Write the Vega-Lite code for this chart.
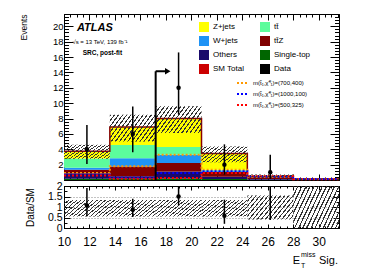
{
"$schema": "https://vega.github.io/schema/vega-lite/v6.json",
"background": "white",
"padding": {"left": 18, "top": 13, "right": 5, "bottom": 5},
"config": {
  "font": "Liberation Sans",
  "view": {"stroke": "black", "strokeWidth": 1},
  "axis": {"grid": false, "domain": true, "domainColor": "black", "domainWidth": 1, "tickColor": "black", "tickWidth": 1, "labelColor": "black", "titleColor": "black", "labelFont": "Liberation Sans", "titleFont": "Liberation Sans", "labelFlush": false, "labelOverlap": false, "zindex": 1},
  "legend": {"labelFont": "Liberation Sans", "labelColor": "black"}
},
"datasets": {
  "stack": [
    {"lo":10,"hi":13.6,"process":"Single-top","stackOrder":1,"events":0.15},
    {"lo":10,"hi":13.6,"process":"Others","stackOrder":2,"events":0.72},
    {"lo":10,"hi":13.6,"process":"tt\u0304Z","stackOrder":3,"events":0.46},
    {"lo":10,"hi":13.6,"process":"W+jets","stackOrder":4,"events":0.27},
    {"lo":10,"hi":13.6,"process":"tt\u0304","stackOrder":5,"events":1.2},
    {"lo":10,"hi":13.6,"process":"Z+jets","stackOrder":6,"events":0.94},
    {"lo":13.6,"hi":17.2,"process":"Single-top","stackOrder":1,"events":0.15},
    {"lo":13.6,"hi":17.2,"process":"Others","stackOrder":2,"events":0.35},
    {"lo":13.6,"hi":17.2,"process":"tt\u0304Z","stackOrder":3,"events":1.25},
    {"lo":13.6,"hi":17.2,"process":"W+jets","stackOrder":4,"events":1.08},
    {"lo":13.6,"hi":17.2,"process":"tt\u0304","stackOrder":5,"events":1.72},
    {"lo":13.6,"hi":17.2,"process":"Z+jets","stackOrder":6,"events":2.35},
    {"lo":17.2,"hi":20.8,"process":"Single-top","stackOrder":1,"events":0.2},
    {"lo":17.2,"hi":20.8,"process":"Others","stackOrder":2,"events":0.9},
    {"lo":17.2,"hi":20.8,"process":"tt\u0304Z","stackOrder":3,"events":1.1},
    {"lo":17.2,"hi":20.8,"process":"W+jets","stackOrder":4,"events":1.1},
    {"lo":17.2,"hi":20.8,"process":"tt\u0304","stackOrder":5,"events":1.0},
    {"lo":17.2,"hi":20.8,"process":"Z+jets","stackOrder":6,"events":3.7},
    {"lo":20.8,"hi":24.4,"process":"Single-top","stackOrder":1,"events":0.12},
    {"lo":20.8,"hi":24.4,"process":"Others","stackOrder":2,"events":0.3},
    {"lo":20.8,"hi":24.4,"process":"tt\u0304Z","stackOrder":3,"events":0.65},
    {"lo":20.8,"hi":24.4,"process":"W+jets","stackOrder":4,"events":0.15},
    {"lo":20.8,"hi":24.4,"process":"tt\u0304","stackOrder":5,"events":0.13},
    {"lo":20.8,"hi":24.4,"process":"Z+jets","stackOrder":6,"events":2.09},
    {"lo":24.4,"hi":28,"process":"Single-top","stackOrder":1,"events":0.02},
    {"lo":24.4,"hi":28,"process":"Others","stackOrder":2,"events":0.1},
    {"lo":24.4,"hi":28,"process":"tt\u0304Z","stackOrder":3,"events":0.25},
    {"lo":24.4,"hi":28,"process":"W+jets","stackOrder":4,"events":0.03},
    {"lo":24.4,"hi":28,"process":"tt\u0304","stackOrder":5,"events":0.03},
    {"lo":24.4,"hi":28,"process":"Z+jets","stackOrder":6,"events":0.02},
    {"lo":28,"hi":31.6,"process":"Single-top","stackOrder":1,"events":0.01},
    {"lo":28,"hi":31.6,"process":"Others","stackOrder":2,"events":0.03},
    {"lo":28,"hi":31.6,"process":"tt\u0304Z","stackOrder":3,"events":0.04},
    {"lo":28,"hi":31.6,"process":"W+jets","stackOrder":4,"events":0.01},
    {"lo":28,"hi":31.6,"process":"tt\u0304","stackOrder":5,"events":0.005},
    {"lo":28,"hi":31.6,"process":"Z+jets","stackOrder":6,"events":0.005}
  ],
  "bins": [
    {"lo":10,"hi":13.6,"bandLo":2.75,"bandHi":4.6,"rbandLo":0.55,"rbandHi":1.33},
    {"lo":13.6,"hi":17.2,"bandLo":5.0,"bandHi":8.5,"rbandLo":0.55,"rbandHi":1.33},
    {"lo":17.2,"hi":20.8,"bandLo":6.1,"bandHi":9.6,"rbandLo":0.55,"rbandHi":1.33},
    {"lo":20.8,"hi":24.4,"bandLo":2.3,"bandHi":4.35,"rbandLo":0.55,"rbandHi":1.33},
    {"lo":24.4,"hi":28,"bandLo":0.28,"bandHi":0.72,"rbandLo":0.4,"rbandHi":1.55},
    {"lo":28,"hi":31.6,"bandLo":0,"bandHi":0.2,"rbandLo":0,"rbandHi":2}
  ],
  "data": [
    {"center":11.8,"events":4,"errLo":2.09,"errHi":7.16,"ratio":1.07,"ratioLo":0.56,"ratioHi":1.91},
    {"center":15.4,"events":6,"errLo":3.62,"errHi":9.58,"ratio":0.87,"ratioLo":0.52,"ratioHi":1.39},
    {"center":19,"events":12,"errLo":8.56,"errHi":16.6,"ratio":1.5,"ratioLo":1.07,"ratioHi":2.08},
    {"center":22.6,"events":2,"errLo":0.7,"errHi":4.64,"ratio":0.58,"ratioLo":0.2,"ratioHi":1.35},
    {"center":26.2,"events":1,"errLo":0.17,"errHi":3.3,"ratio":2.22,"ratioLo":0.38,"ratioHi":7.3}
  ],
  "steps": [
    {"edge":10,"series":"SM Total","events":3.74},
    {"edge":13.6,"series":"SM Total","events":6.9},
    {"edge":17.2,"series":"SM Total","events":8.0},
    {"edge":20.8,"series":"SM Total","events":3.44},
    {"edge":24.4,"series":"SM Total","events":0.45},
    {"edge":28,"series":"SM Total","events":0.1},
    {"edge":31.6,"series":"SM Total","events":0.1},
    {"edge":10,"series":"m(t\u0303\u2081,\u03c7\u0303\u2070\u2081)=(700,400)","events":0.91},
    {"edge":13.6,"series":"m(t\u0303\u2081,\u03c7\u0303\u2070\u2081)=(700,400)","events":1.78},
    {"edge":17.2,"series":"m(t\u0303\u2081,\u03c7\u0303\u2070\u2081)=(700,400)","events":3.3},
    {"edge":20.8,"series":"m(t\u0303\u2081,\u03c7\u0303\u2070\u2081)=(700,400)","events":1.35},
    {"edge":24.4,"series":"m(t\u0303\u2081,\u03c7\u0303\u2070\u2081)=(700,400)","events":0.42},
    {"edge":28,"series":"m(t\u0303\u2081,\u03c7\u0303\u2070\u2081)=(700,400)","events":0.12},
    {"edge":31.6,"series":"m(t\u0303\u2081,\u03c7\u0303\u2070\u2081)=(700,400)","events":0.12},
    {"edge":10,"series":"m(t\u0303\u2081,\u03c7\u0303\u2070\u2081)=(1000,100)","events":0.7},
    {"edge":13.6,"series":"m(t\u0303\u2081,\u03c7\u0303\u2070\u2081)=(1000,100)","events":0.3},
    {"edge":17.2,"series":"m(t\u0303\u2081,\u03c7\u0303\u2070\u2081)=(1000,100)","events":0.91},
    {"edge":20.8,"series":"m(t\u0303\u2081,\u03c7\u0303\u2070\u2081)=(1000,100)","events":1.13},
    {"edge":24.4,"series":"m(t\u0303\u2081,\u03c7\u0303\u2070\u2081)=(1000,100)","events":0.45},
    {"edge":28,"series":"m(t\u0303\u2081,\u03c7\u0303\u2070\u2081)=(1000,100)","events":0.12},
    {"edge":31.6,"series":"m(t\u0303\u2081,\u03c7\u0303\u2070\u2081)=(1000,100)","events":0.12},
    {"edge":10,"series":"m(t\u0303\u2081,\u03c7\u0303\u2070\u2081)=(500,325)","events":0.57},
    {"edge":13.6,"series":"m(t\u0303\u2081,\u03c7\u0303\u2070\u2081)=(500,325)","events":0.15},
    {"edge":17.2,"series":"m(t\u0303\u2081,\u03c7\u0303\u2070\u2081)=(500,325)","events":0.26},
    {"edge":20.8,"series":"m(t\u0303\u2081,\u03c7\u0303\u2070\u2081)=(500,325)","events":0.91},
    {"edge":24.4,"series":"m(t\u0303\u2081,\u03c7\u0303\u2070\u2081)=(500,325)","events":0.5},
    {"edge":28,"series":"m(t\u0303\u2081,\u03c7\u0303\u2070\u2081)=(500,325)","events":0.1},
    {"edge":31.6,"series":"m(t\u0303\u2081,\u03c7\u0303\u2070\u2081)=(500,325)","events":0.1}
  ],
  "cut": [{"cut":17.2,"top":14.15,"tip":18.15}]
},
"bounds": "flush",
"spacing": 6,
"resolve": {"scale": {"x": "independent", "y": "independent", "fill": "independent", "stroke": "independent"}, "legend": {"fill": "independent", "stroke": "independent"}},
"vconcat": [
{
  "width": 275, "height": 166,
  "resolve": {"axis": {"x": "independent", "y": "independent"}},
  "layer": [
    {
      "data": {"name": "stack"},
      "transform": [{"stack": "events", "groupby": ["lo"], "sort": [{"field": "stackOrder", "order": "ascending"}], "as": ["y0", "y1"]}],
      "mark": {"type": "rect", "strokeWidth": 0},
      "encoding": {
        "x": {"field": "lo", "type": "quantitative", "scale": {"domain": [10, 31.6], "nice": false, "zero": false},
          "axis": {"orient": "bottom", "values": [10,10.5,11,11.5,12,12.5,13,13.5,14,14.5,15,15.5,16,16.5,17,17.5,18,18.5,19,19.5,20,20.5,21,21.5,22,22.5,23,23.5,24,24.5,25,25.5,26,26.5,27,27.5,28,28.5,29,29.5,30,30.5,31,31.5], "labels": false, "title": null,
            "tickSize": {"condition": {"test": "datum.value % 2 === 0", "value": -6}, "value": -3}}},
        "x2": {"field": "hi"},
        "y": {"field": "y0", "type": "quantitative", "scale": {"domain": [0, 21.6], "nice": false, "zero": false},
          "axis": {"orient": "left", "values": [0,0.4,0.8,1.2,1.6,2,2.4,2.8,3.2,3.6,4,4.4,4.8,5.2,5.6,6,6.4,6.8,7.2,7.6,8,8.4,8.8,9.2,9.6,10,10.4,10.8,11.2,11.6,12,12.4,12.8,13.2,13.6,14,14.4,14.8,15.2,15.6,16,16.4,16.8,17.2,17.6,18,18.4,18.8,19.2,19.6,20,20.4,20.8,21.2],
            "labelExpr": "datum.value % 2 === 0 && datum.value > 0 ? '' + datum.value : ''",
            "labelFontSize": {"condition": {"test": "datum.value % 2 === 0 && datum.value > 0", "value": 9.5}, "value": 0}, "labelPadding": 10,
            "tickSize": {"condition": {"test": "datum.value % 2 === 0", "value": -9}, "value": -4.5},
            "title": "Events", "titleFontSize": 8.5, "titleFontWeight": "normal", "titleAlign": "right", "titleAnchor": "end", "titleBaseline": "middle", "titleAngle": -90, "titleX": -41, "titleY": 0}},
        "y2": {"field": "y1"},
        "fill": {"field": "process", "type": "nominal",
          "scale": {"domain": ["Z+jets","tt\u0304","W+jets","tt\u0304Z","Others","Single-top","SM Total","Data"],
                    "range": ["#ffff00","#5cfc9c","#1f93f5","#800000","#1a0a6b","#006600","#cc0000","#000000"]},
          "legend": {"orient": "none", "legendX": 135, "legendY": 8, "columns": 2, "direction": "horizontal", "title": null,
            "symbolType": "square", "symbolSize": 100, "symbolStrokeWidth": 0,
            "labelFontSize": 8, "labelOffset": 4, "rowPadding": 4, "columnPadding": 15, "padding": 0, "labelLimit": 200,
            "encode": {"symbols": {"update": {
              "shape": {"condition": [{"test": "datum.index === 6", "value": "M-1,-0.2L-0.2,-1M-1,0.6L0.6,-1M-0.6,1L1,-0.6M0.2,1L1,0.2M-1,-0.22H1V0.22H-1Z"}, {"test": "datum.index === 7", "value": "M0,-1V1M-0.4,0A0.4,0.4,0,1,1,0.4,0A0.4,0.4,0,1,1,-0.4,0Z"}], "value": "square"},
              "fill": {"value": {"expr": "['#ffff00','#5cfc9c','#1f93f5','#800000','#1a0a6b','#006600','#cc0000','#000000'][datum.index]"}},
              "stroke": {"condition": {"test": "datum.index === 6", "value": "#333333"}, "value": "#000000"},
              "strokeWidth": {"condition": [{"test": "datum.index === 6", "value": 0.8}, {"test": "datum.index === 7", "value": 1.2}], "value": 0}
            }}}}}
      }
    },
    {
      "data": {"name": "steps"},
      "transform": [{"filter": "datum.series === 'SM Total'"}],
      "mark": {"type": "line", "interpolate": "step-after", "color": "#8b0000", "strokeWidth": 1.5},
      "encoding": {
        "x": {"field": "edge", "type": "quantitative", "scale": {"domain": [10, 31.6], "nice": false, "zero": false}, "axis": null},
        "y": {"field": "events", "type": "quantitative", "scale": {"domain": [0, 21.6], "nice": false, "zero": false}, "axis": null}
      }
    },
    {
      "data": {"name": "steps"},
      "transform": [{"filter": "datum.series !== 'SM Total'"}],
      "mark": {"type": "line", "interpolate": "step-after", "strokeWidth": 2, "strokeDash": [2, 2]},
      "encoding": {
        "x": {"field": "edge", "type": "quantitative", "scale": {"domain": [10, 31.6], "nice": false, "zero": false}, "axis": null},
        "y": {"field": "events", "type": "quantitative", "scale": {"domain": [0, 21.6], "nice": false, "zero": false}, "axis": null},
        "stroke": {"field": "series", "type": "nominal",
          "scale": {"domain": ["m(t\u0303\u2081,\u03c7\u0303\u2070\u2081)=(700,400)","m(t\u0303\u2081,\u03c7\u0303\u2070\u2081)=(1000,100)","m(t\u0303\u2081,\u03c7\u0303\u2070\u2081)=(500,325)"], "range": ["#ff9900","#0000ff","#ff0000"]},
          "legend": {"orient": "none", "legendX": 172, "legendY": 62, "title": null, "symbolType": "stroke", "symbolSize": 144, "symbolStrokeWidth": 2, "symbolDash": [2, 2], "labelFontSize": 6, "labelOffset": 3, "rowPadding": 0, "padding": 0, "labelLimit": 200}}
      }
    },
    {
      "data": {"name": "bins"},
      "mark": {"type": "rect", "strokeWidth": 0, "fill": {"gradient":"linear","x1":0,"y1":0,"x2":1.207,"y2":0.519,"stops":[
        {"offset":0,"color":"#333333"},{"offset":0.02,"color":"#333333"},{"offset":0.02,"color":"rgba(0,0,0,0)"},{"offset":0.0625,"color":"rgba(0,0,0,0)"},
        {"offset":0.0625,"color":"#333333"},{"offset":0.0825,"color":"#333333"},{"offset":0.0825,"color":"rgba(0,0,0,0)"},{"offset":0.125,"color":"rgba(0,0,0,0)"},
        {"offset":0.125,"color":"#333333"},{"offset":0.145,"color":"#333333"},{"offset":0.145,"color":"rgba(0,0,0,0)"},{"offset":0.1875,"color":"rgba(0,0,0,0)"},
        {"offset":0.1875,"color":"#333333"},{"offset":0.2075,"color":"#333333"},{"offset":0.2075,"color":"rgba(0,0,0,0)"},{"offset":0.25,"color":"rgba(0,0,0,0)"},
        {"offset":0.25,"color":"#333333"},{"offset":0.27,"color":"#333333"},{"offset":0.27,"color":"rgba(0,0,0,0)"},{"offset":0.3125,"color":"rgba(0,0,0,0)"},
        {"offset":0.3125,"color":"#333333"},{"offset":0.3325,"color":"#333333"},{"offset":0.3325,"color":"rgba(0,0,0,0)"},{"offset":0.375,"color":"rgba(0,0,0,0)"},
        {"offset":0.375,"color":"#333333"},{"offset":0.395,"color":"#333333"},{"offset":0.395,"color":"rgba(0,0,0,0)"},{"offset":0.4375,"color":"rgba(0,0,0,0)"},
        {"offset":0.4375,"color":"#333333"},{"offset":0.4575,"color":"#333333"},{"offset":0.4575,"color":"rgba(0,0,0,0)"},{"offset":0.5,"color":"rgba(0,0,0,0)"},
        {"offset":0.5,"color":"#333333"},{"offset":0.52,"color":"#333333"},{"offset":0.52,"color":"rgba(0,0,0,0)"},{"offset":0.5625,"color":"rgba(0,0,0,0)"},
        {"offset":0.5625,"color":"#333333"},{"offset":0.5825,"color":"#333333"},{"offset":0.5825,"color":"rgba(0,0,0,0)"},{"offset":0.625,"color":"rgba(0,0,0,0)"},
        {"offset":0.625,"color":"#333333"},{"offset":0.645,"color":"#333333"},{"offset":0.645,"color":"rgba(0,0,0,0)"},{"offset":0.6875,"color":"rgba(0,0,0,0)"},
        {"offset":0.6875,"color":"#333333"},{"offset":0.7075,"color":"#333333"},{"offset":0.7075,"color":"rgba(0,0,0,0)"},{"offset":0.75,"color":"rgba(0,0,0,0)"},
        {"offset":0.75,"color":"#333333"},{"offset":0.77,"color":"#333333"},{"offset":0.77,"color":"rgba(0,0,0,0)"},{"offset":0.8125,"color":"rgba(0,0,0,0)"},
        {"offset":0.8125,"color":"#333333"},{"offset":0.8325,"color":"#333333"},{"offset":0.8325,"color":"rgba(0,0,0,0)"},{"offset":0.875,"color":"rgba(0,0,0,0)"},
        {"offset":0.875,"color":"#333333"},{"offset":0.895,"color":"#333333"},{"offset":0.895,"color":"rgba(0,0,0,0)"},{"offset":0.9375,"color":"rgba(0,0,0,0)"},
        {"offset":0.9375,"color":"#333333"},{"offset":0.9575,"color":"#333333"},{"offset":0.9575,"color":"rgba(0,0,0,0)"},{"offset":1,"color":"rgba(0,0,0,0)"}]}},
      "encoding": {
        "x": {"field": "lo", "type": "quantitative", "scale": {"domain": [10, 31.6], "nice": false, "zero": false},
          "axis": {"orient": "top", "values": [10,10.5,11,11.5,12,12.5,13,13.5,14,14.5,15,15.5,16,16.5,17,17.5,18,18.5,19,19.5,20,20.5,21,21.5,22,22.5,23,23.5,24,24.5,25,25.5,26,26.5,27,27.5,28,28.5,29,29.5,30,30.5,31,31.5], "labels": false, "title": null,
            "tickSize": {"condition": {"test": "datum.value % 2 === 0", "value": -6}, "value": -3}}},
        "x2": {"field": "hi"},
        "y": {"field": "bandLo", "type": "quantitative", "scale": {"domain": [0, 21.6], "nice": false, "zero": false},
          "axis": {"orient": "right", "values": [0,0.4,0.8,1.2,1.6,2,2.4,2.8,3.2,3.6,4,4.4,4.8,5.2,5.6,6,6.4,6.8,7.2,7.6,8,8.4,8.8,9.2,9.6,10,10.4,10.8,11.2,11.6,12,12.4,12.8,13.2,13.6,14,14.4,14.8,15.2,15.6,16,16.4,16.8,17.2,17.6,18,18.4,18.8,19.2,19.6,20,20.4,20.8,21.2], "labels": false, "title": null,
            "tickSize": {"condition": {"test": "datum.value % 2 === 0", "value": -9}, "value": -4.5}}},
        "y2": {"field": "bandHi"}
      }
    },
    {
      "data": {"name": "data"},
      "mark": {"type": "rule", "color": "black", "strokeWidth": 1.5},
      "encoding": {
        "x": {"field": "center", "type": "quantitative", "scale": {"domain": [10, 31.6], "nice": false, "zero": false}, "axis": null},
        "y": {"field": "errLo", "type": "quantitative", "scale": {"domain": [0, 21.6], "nice": false, "zero": false}, "axis": null},
        "y2": {"field": "errHi"}
      }
    },
    {
      "data": {"name": "data"},
      "mark": {"type": "point", "filled": true, "color": "black", "opacity": 1, "size": 20},
      "encoding": {
        "x": {"field": "center", "type": "quantitative", "scale": {"domain": [10, 31.6], "nice": false, "zero": false}, "axis": null},
        "y": {"field": "events", "type": "quantitative", "scale": {"domain": [0, 21.6], "nice": false, "zero": false}, "axis": null}
      }
    },
    {
      "data": {"name": "cut"},
      "mark": {"type": "rule", "color": "black", "strokeWidth": 2},
      "encoding": {
        "x": {"field": "cut", "type": "quantitative", "scale": {"domain": [10, 31.6], "nice": false, "zero": false}, "axis": null},
        "y": {"field": "top", "type": "quantitative", "scale": {"domain": [0, 21.6], "nice": false, "zero": false}, "axis": null},
        "y2": {"datum": 0}
      }
    },
    {
      "data": {"name": "cut"},
      "mark": {"type": "rule", "color": "black", "strokeWidth": 2},
      "encoding": {
        "x": {"field": "cut", "type": "quantitative", "scale": {"domain": [10, 31.6], "nice": false, "zero": false}, "axis": null},
        "x2": {"field": "tip"},
        "y": {"field": "top", "type": "quantitative", "scale": {"domain": [0, 21.6], "nice": false, "zero": false}, "axis": null}
      }
    },
    {
      "data": {"name": "cut"},
      "mark": {"type": "point", "shape": "triangle-right", "filled": true, "color": "black", "opacity": 1, "size": 40},
      "encoding": {
        "x": {"field": "tip", "type": "quantitative", "scale": {"domain": [10, 31.6], "nice": false, "zero": false}, "axis": null},
        "y": {"field": "top", "type": "quantitative", "scale": {"domain": [0, 21.6], "nice": false, "zero": false}, "axis": null}
      }
    },
    {
      "data": {"values": [{}]},
      "mark": {"type": "text", "text": "ATLAS", "align": "left", "baseline": "alphabetic", "fontSize": 11, "fontWeight": "bold", "fontStyle": "italic", "color": "black"},
      "encoding": {
        "x": {"datum": 11.02, "type": "quantitative", "scale": {"domain": [10, 31.6], "nice": false, "zero": false}, "axis": null},
        "y": {"datum": 19.45, "type": "quantitative", "scale": {"domain": [0, 21.6], "nice": false, "zero": false}, "axis": null}
      }
    },
    {
      "data": {"values": [{}]},
      "mark": {"type": "text", "text": "\u221as = 13 TeV, 139 fb\u207b\u00b9", "align": "left", "baseline": "alphabetic", "fontSize": 6, "color": "black"},
      "encoding": {
        "x": {"datum": 10.66, "type": "quantitative", "scale": {"domain": [10, 31.6], "nice": false, "zero": false}, "axis": null},
        "y": {"datum": 17.76, "type": "quantitative", "scale": {"domain": [0, 21.6], "nice": false, "zero": false}, "axis": null}
      }
    },
    {
      "data": {"values": [{}]},
      "mark": {"type": "text", "text": "SRC, post-fit", "align": "left", "baseline": "alphabetic", "fontSize": 6.5, "fontWeight": "bold", "color": "black"},
      "encoding": {
        "x": {"datum": 11.47, "type": "quantitative", "scale": {"domain": [10, 31.6], "nice": false, "zero": false}, "axis": null},
        "y": {"datum": 16.24, "type": "quantitative", "scale": {"domain": [0, 21.6], "nice": false, "zero": false}, "axis": null}
      }
    }
  ]
},
{
  "width": 275, "height": 42,
  "resolve": {"axis": {"x": "independent", "y": "independent"}},
  "layer": [
    {
      "data": {"name": "bins"},
      "mark": {"type": "rect", "strokeWidth": 0, "fill": {"gradient":"linear","x1":0,"y1":0,"x2":1.207,"y2":0.519,"stops":[
        {"offset":0,"color":"#333333"},{"offset":0.02,"color":"#333333"},{"offset":0.02,"color":"rgba(0,0,0,0)"},{"offset":0.0625,"color":"rgba(0,0,0,0)"},
        {"offset":0.0625,"color":"#333333"},{"offset":0.0825,"color":"#333333"},{"offset":0.0825,"color":"rgba(0,0,0,0)"},{"offset":0.125,"color":"rgba(0,0,0,0)"},
        {"offset":0.125,"color":"#333333"},{"offset":0.145,"color":"#333333"},{"offset":0.145,"color":"rgba(0,0,0,0)"},{"offset":0.1875,"color":"rgba(0,0,0,0)"},
        {"offset":0.1875,"color":"#333333"},{"offset":0.2075,"color":"#333333"},{"offset":0.2075,"color":"rgba(0,0,0,0)"},{"offset":0.25,"color":"rgba(0,0,0,0)"},
        {"offset":0.25,"color":"#333333"},{"offset":0.27,"color":"#333333"},{"offset":0.27,"color":"rgba(0,0,0,0)"},{"offset":0.3125,"color":"rgba(0,0,0,0)"},
        {"offset":0.3125,"color":"#333333"},{"offset":0.3325,"color":"#333333"},{"offset":0.3325,"color":"rgba(0,0,0,0)"},{"offset":0.375,"color":"rgba(0,0,0,0)"},
        {"offset":0.375,"color":"#333333"},{"offset":0.395,"color":"#333333"},{"offset":0.395,"color":"rgba(0,0,0,0)"},{"offset":0.4375,"color":"rgba(0,0,0,0)"},
        {"offset":0.4375,"color":"#333333"},{"offset":0.4575,"color":"#333333"},{"offset":0.4575,"color":"rgba(0,0,0,0)"},{"offset":0.5,"color":"rgba(0,0,0,0)"},
        {"offset":0.5,"color":"#333333"},{"offset":0.52,"color":"#333333"},{"offset":0.52,"color":"rgba(0,0,0,0)"},{"offset":0.5625,"color":"rgba(0,0,0,0)"},
        {"offset":0.5625,"color":"#333333"},{"offset":0.5825,"color":"#333333"},{"offset":0.5825,"color":"rgba(0,0,0,0)"},{"offset":0.625,"color":"rgba(0,0,0,0)"},
        {"offset":0.625,"color":"#333333"},{"offset":0.645,"color":"#333333"},{"offset":0.645,"color":"rgba(0,0,0,0)"},{"offset":0.6875,"color":"rgba(0,0,0,0)"},
        {"offset":0.6875,"color":"#333333"},{"offset":0.7075,"color":"#333333"},{"offset":0.7075,"color":"rgba(0,0,0,0)"},{"offset":0.75,"color":"rgba(0,0,0,0)"},
        {"offset":0.75,"color":"#333333"},{"offset":0.77,"color":"#333333"},{"offset":0.77,"color":"rgba(0,0,0,0)"},{"offset":0.8125,"color":"rgba(0,0,0,0)"},
        {"offset":0.8125,"color":"#333333"},{"offset":0.8325,"color":"#333333"},{"offset":0.8325,"color":"rgba(0,0,0,0)"},{"offset":0.875,"color":"rgba(0,0,0,0)"},
        {"offset":0.875,"color":"#333333"},{"offset":0.895,"color":"#333333"},{"offset":0.895,"color":"rgba(0,0,0,0)"},{"offset":0.9375,"color":"rgba(0,0,0,0)"},
        {"offset":0.9375,"color":"#333333"},{"offset":0.9575,"color":"#333333"},{"offset":0.9575,"color":"rgba(0,0,0,0)"},{"offset":1,"color":"rgba(0,0,0,0)"}]}},
      "encoding": {
        "x": {"field": "lo", "type": "quantitative", "scale": {"domain": [10, 31.6], "nice": false, "zero": false},
          "axis": {"orient": "bottom", "values": [10,10.5,11,11.5,12,12.5,13,13.5,14,14.5,15,15.5,16,16.5,17,17.5,18,18.5,19,19.5,20,20.5,21,21.5,22,22.5,23,23.5,24,24.5,25,25.5,26,26.5,27,27.5,28,28.5,29,29.5,30,30.5,31,31.5],
            "labelExpr": "datum.value % 2 === 0 ? '' + datum.value : ''",
            "labelFontSize": {"condition": {"test": "datum.value % 2 === 0", "value": 12}, "value": 0}, "labelPadding": 12, "title": null,
            "tickSize": {"condition": {"test": "datum.value % 2 === 0", "value": -4}, "value": -2}}},
        "x2": {"field": "hi"},
        "y": {"field": "rbandLo", "type": "quantitative", "scale": {"domain": [0, 2], "nice": false, "zero": false},
          "axis": {"orient": "left", "values": [0,0.25,0.5,0.75,1,1.25,1.5,1.75,2],
            "labelExpr": "datum.value % 0.5 === 0 ? '' + datum.value : ''",
            "labelFontSize": {"condition": {"test": "datum.value % 0.5 === 0", "value": 10.5}, "value": 0}, "labelPadding": 8,
            "tickSize": {"condition": {"test": "datum.value % 0.5 === 0", "value": -6}, "value": -3},
            "title": "Data/SM", "titleFontSize": 10, "titleFontWeight": "normal", "titleAngle": -90, "titleBaseline": "middle", "titleX": -33.5,
            "grid": true, "gridColor": "#888888", "gridDash": [1, 2],
            "gridOpacity": {"condition": {"test": "datum.value === 0.5 || datum.value === 1 || datum.value === 1.5", "value": 1}, "value": 0}}},
        "y2": {"field": "rbandHi"}
      }
    },
    {
      "data": {"name": "data"},
      "mark": {"type": "rule", "color": "black", "strokeWidth": 1.5, "clip": true},
      "encoding": {
        "x": {"field": "center", "type": "quantitative", "scale": {"domain": [10, 31.6], "nice": false, "zero": false},
          "axis": {"orient": "top", "values": [10,10.5,11,11.5,12,12.5,13,13.5,14,14.5,15,15.5,16,16.5,17,17.5,18,18.5,19,19.5,20,20.5,21,21.5,22,22.5,23,23.5,24,24.5,25,25.5,26,26.5,27,27.5,28,28.5,29,29.5,30,30.5,31,31.5], "labels": false, "title": null,
            "tickSize": {"condition": {"test": "datum.value % 2 === 0", "value": -4}, "value": -2}}},
        "y": {"field": "ratioLo", "type": "quantitative", "scale": {"domain": [0, 2], "nice": false, "zero": false},
          "axis": {"orient": "right", "values": [0,0.25,0.5,0.75,1,1.25,1.5,1.75,2], "labels": false, "title": null,
            "tickSize": {"condition": {"test": "datum.value % 0.5 === 0", "value": -6}, "value": -3}}},
        "y2": {"field": "ratioHi"}
      }
    },
    {
      "data": {"name": "data"},
      "mark": {"type": "point", "filled": true, "color": "black", "opacity": 1, "size": 20, "clip": true},
      "encoding": {
        "x": {"field": "center", "type": "quantitative", "scale": {"domain": [10, 31.6], "nice": false, "zero": false}, "axis": null},
        "y": {"field": "ratio", "type": "quantitative", "scale": {"domain": [0, 2], "nice": false, "zero": false}, "axis": null}
      }
    },
    {
      "data": {"values": [{}]},
      "mark": {"type": "text", "text": "Sig.", "align": "right", "baseline": "alphabetic", "fontSize": 11, "dx": -1, "dy": 36, "color": "black"},
      "encoding": {
        "x": {"datum": 31.6, "type": "quantitative", "scale": {"domain": [10, 31.6], "nice": false, "zero": false}, "axis": null},
        "y": {"datum": 0, "type": "quantitative", "scale": {"domain": [0, 2], "nice": false, "zero": false}, "axis": null}
      }
    },
    {
      "data": {"values": [{}]},
      "mark": {"type": "text", "text": "E", "align": "right", "baseline": "alphabetic", "fontSize": 11, "dx": -39, "dy": 36, "color": "black"},
      "encoding": {
        "x": {"datum": 31.6, "type": "quantitative", "scale": {"domain": [10, 31.6], "nice": false, "zero": false}, "axis": null},
        "y": {"datum": 0, "type": "quantitative", "scale": {"domain": [0, 2], "nice": false, "zero": false}, "axis": null}
      }
    },
    {
      "data": {"values": [{}]},
      "mark": {"type": "text", "text": "miss", "align": "left", "baseline": "alphabetic", "fontSize": 7, "dx": -38, "dy": 29, "color": "black"},
      "encoding": {
        "x": {"datum": 31.6, "type": "quantitative", "scale": {"domain": [10, 31.6], "nice": false, "zero": false}, "axis": null},
        "y": {"datum": 0, "type": "quantitative", "scale": {"domain": [0, 2], "nice": false, "zero": false}, "axis": null}
      }
    },
    {
      "data": {"values": [{}]},
      "mark": {"type": "text", "text": "T", "align": "left", "baseline": "alphabetic", "fontSize": 7, "dx": -38, "dy": 40, "color": "black"},
      "encoding": {
        "x": {"datum": 31.6, "type": "quantitative", "scale": {"domain": [10, 31.6], "nice": false, "zero": false}, "axis": null},
        "y": {"datum": 0, "type": "quantitative", "scale": {"domain": [0, 2], "nice": false, "zero": false}, "axis": null}
      }
    }
  ]
}
]
}
